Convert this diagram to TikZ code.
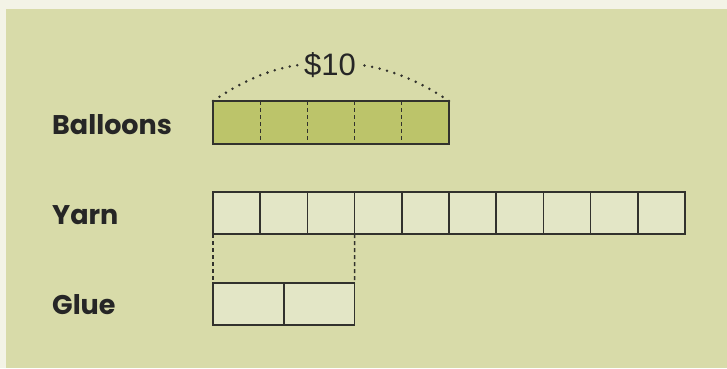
\documentclass[tikz,border=0pt]{standalone}
\usepackage{fontspec}
\setmainfont{Liberation Sans}
\newfontfamily\rowfont{Poppins}

\definecolor{creambg}{RGB}{243,243,230}
\definecolor{panelgreen}{RGB}{216,219,169}
\definecolor{balfill}{RGB}{188,196,106}
\definecolor{cellfill}{RGB}{227,230,198}
\definecolor{inkgray}{RGB}{50,50,45}

\tikzset{
  balcell/.style={fill=balfill, minimum width=47.2pt, minimum height=43pt,
    inner sep=0pt, outer sep=0pt, anchor=north west},
  yarncell/.style={draw=inkgray, fill=cellfill, line width=1.5pt, minimum width=47.2pt,
    minimum height=42pt, inner sep=0pt, outer sep=0pt, anchor=north west},
  gluecell/.style={yarncell, minimum width=70.8pt},
  divider/.style={inkgray, line width=1.3pt, dash pattern=on 4pt off 3pt},
  guide/.style={inkgray, line width=1.4pt, dash pattern=on 4pt off 3pt},
  dots/.style={inkgray, line width=2.8pt, line cap=round, dash pattern=on 0pt off 7.7pt},
  rowlabel/.style={font=\rowfont\bfseries\fontsize{27}{30}\selectfont, text=black!85,
    anchor=base west, inner sep=0pt},
  costlabel/.style={font=\fontsize{31}{33}\selectfont, text=black!85, inner sep=5pt}
}

\begin{document}
\begin{tikzpicture}[x=1pt, y=-1pt]
  \useasboundingbox (0,0) rectangle (727,368);
  % Background panel
  \fill[creambg] (0,0) rectangle (727,368);
  \fill[panelgreen] (6,9) rectangle (727,368);

  % Row labels
  \node[rowlabel] (lbal) at (52,134) {Balloons};
  \node[rowlabel] (lyarn) at (52,224) {Yarn};
  \node[rowlabel] (lglue) at (52,314) {Glue};

  % Balloons: 5 parts
  \foreach \i in {1,...,5}
    \node[balcell] (b\i) at ({213+(\i-1)*47.2},101) {};
  \foreach \i in {1,...,4}
    \draw[divider] (b\i.north east) -- (b\i.south east);
  \draw[inkgray, line width=1.5pt] (b1.north west) rectangle (b5.south east);

  % Yarn: 10 parts
  \foreach \i in {1,...,10}
    \node[yarncell] (y\i) at ({213+(\i-1)*47.2},192) {};

  % Glue: 2 parts
  \foreach \i in {1,2}
    \node[gluecell] (g\i) at ({213+(\i-1)*70.8},283) {};

  % Glue matches 3 parts of yarn
  \draw[guide] (y1.south west) -- (g1.north west);
  \draw[guide] (y3.south east) -- (g2.north east);

  % Price brace
  \node[costlabel] (cost) at (330,65) {\$10};
  \draw[dots] (b1.north west) .. controls +(28,-19) and +(-30,4) .. (cost.west);
  \draw[dots] (b5.north east) .. controls +(-28,-19) and +(30,4) .. (cost.east);
\end{tikzpicture}
\end{document}
